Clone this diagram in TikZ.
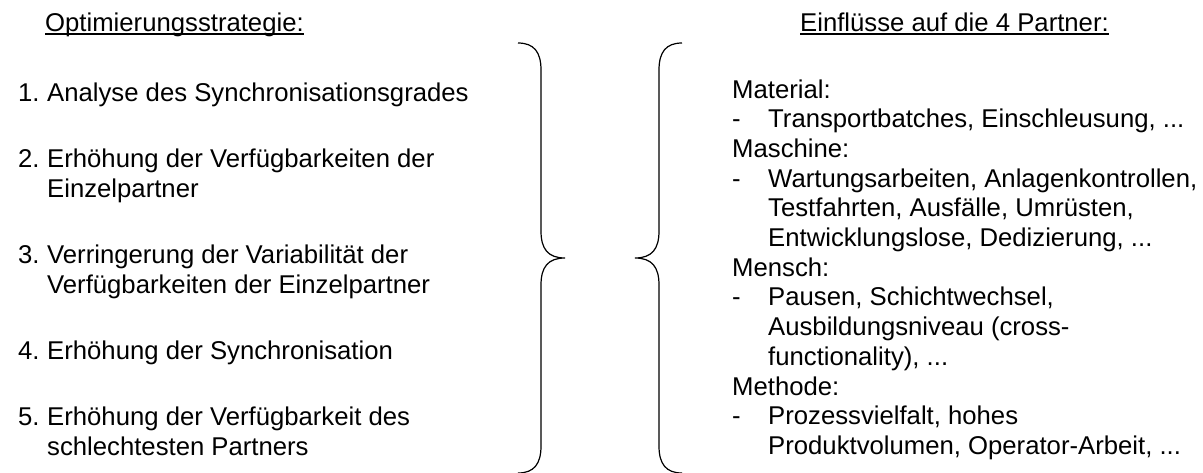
\documentclass[tikz,border=0pt]{standalone}
\usepackage{fontspec}
\setmainfont{Liberation Sans}
\usetikzlibrary{positioning}

\newcommand{\mlines}[1]{\begin{tabular}[t]{@{}l@{}}#1\end{tabular}}

\tikzset{
  txt/.style={anchor=base west, inner sep=0pt, font=\fontsize{25.7}{29.7}\selectfont},
  brace/.style={line width=1.2pt},
  uline/.style={line width=1.4pt}
}

\begin{document}
\begin{tikzpicture}[x=1pt, y=-1pt]
    \useasboundingbox (0,0) rectangle (1203,472);

    % left column
    \node[txt] (strat) at (45,31.5) {Optimierungsstrategie:};
    \draw[uline] ([yshift=-2.5pt]strat.base west) -- ([yshift=-2.5pt]strat.base east);

    \foreach \i/\y/\txt in {1/101/{Analyse des Synchronisationsgrades},
        2/167.5/{Erhöhung der Verfügbarkeiten der\\Einzelpartner},
        3/263.5/{Verringerung der Variabilität der\\Verfügbarkeiten der Einzelpartner},
        4/359.5/{Erhöhung der Synchronisation},
        5/425.5/{Erhöhung der Verfügbarkeit des\\schlechtesten Partners}} {
        \node[txt] (num\i) at (18,\y) {\i.};
        \node[txt] (item\i) at (47,\y) {\mlines{\txt}};
    }

    % braces
    \draw[brace] (518,43) .. controls (534,43) and (541,52) .. (541,70) -- (541,231)
        .. controls (541,249) and (548,258) .. (565,258)
        .. controls (548,258) and (541,267) .. (541,285) -- (541,446)
        .. controls (541,464) and (534,473) .. (518,473);
    \draw[brace] (682,43) .. controls (666,43) and (659,52) .. (659,70) -- (659,231)
        .. controls (659,249) and (652,258) .. (635,258)
        .. controls (652,258) and (659,267) .. (659,285) -- (659,446)
        .. controls (659,464) and (666,473) .. (682,473);

    % right column
    \node[txt] (einfl) at (800,31.5) {Einflüsse auf die 4 Partner:};
    \draw[uline] ([yshift=-2.5pt]einfl.base west) -- ([yshift=-2.5pt]einfl.base east);

    \foreach \name/\y/\head/\txt in {mat/98/Material/{Transportbatches, Einschleusung, ...},
        masch/157.4/Maschine/{Wartungsarbeiten, Anlagenkontrollen,\\Testfahrten, Ausfälle, Umrüsten,\\Entwicklungslose, Dedizierung, ...},
        mensch/276.2/Mensch/{Pausen, Schichtwechsel,\\Ausbildungsniveau (cross-\\functionality), ...},
        meth/395/Methode/{Prozessvielfalt, hohes\\Produktvolumen, Operator-Arbeit, ...}} {
        \node[txt] (\name) at (732,\y) {\head:};
        \node[txt] (\name dash) at (732,\y+29.7) {-};
        \node[txt] (\name list) at (768,\y+29.7) {\mlines{\txt}};
    }
\end{tikzpicture}
\end{document}
